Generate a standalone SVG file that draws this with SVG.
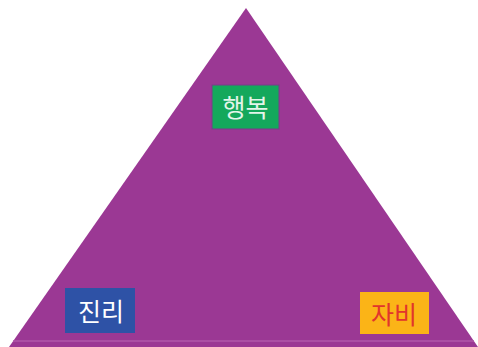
<svg xmlns="http://www.w3.org/2000/svg" width="478" height="347" viewBox="0 0 478 347">
<style>
.lbl{font-family:"Noto Sans CJK KR","Noto Sans",sans-serif;font-size:25px;text-anchor:middle;dominant-baseline:central}
</style>
<rect width="478" height="347" fill="#ffffff"/>
<g id="triangle">
<polygon points="246,8 478,347 9,347" fill="#9b3894"/>
<line x1="13" y1="341" x2="474" y2="341" stroke="#b157aa" stroke-width="1.5"/>
</g>
<g id="happiness">
<rect x="212" y="85" width="67" height="44" fill="#14a85c" stroke="#7a3a8a" stroke-width="1"/>
<text class="lbl" x="245.5" y="106" fill="#e3f5ea">행복</text>
</g>
<g id="truth">
<rect x="65" y="288" width="70" height="45" fill="#2e52a6"/>
<text class="lbl" x="101" y="310" fill="#ffffff">진리</text>
</g>
<g id="compassion">
<rect x="360" y="292" width="69" height="42" fill="#fbb417"/>
<text class="lbl" x="394" y="313" fill="#e2352c">자비</text>
</g>
</svg>
